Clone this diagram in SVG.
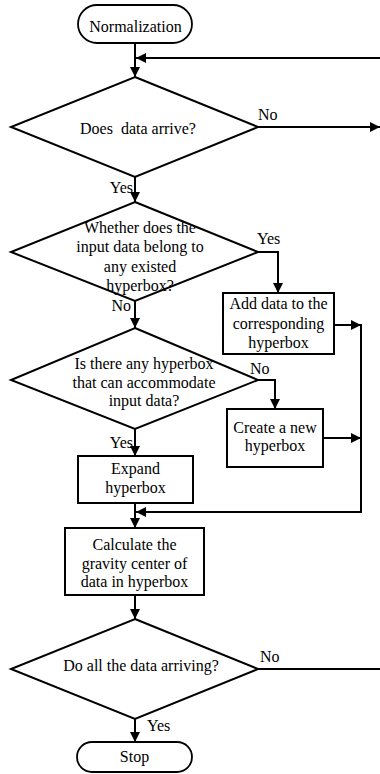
<svg xmlns="http://www.w3.org/2000/svg" width="380" height="774" viewBox="0 0 380 774">
  <defs>
    <style>
      .shape { fill: #fff; stroke: #000; stroke-width: 2; }
      .term { fill: #fff; stroke: #000; stroke-width: 1.8; }
      .wire { fill: none; stroke: #000; stroke-width: 2; }
      .arrow { marker-end: url(#head); }
      text { font-family: "Liberation Serif", "Times New Roman", serif; font-size: 16px; fill: #000; }
      .c { text-anchor: middle; }
      .e { text-anchor: end; }
    </style>
    <marker id="head" markerUnits="userSpaceOnUse" markerWidth="12" markerHeight="12" viewBox="0 0 12 12" refX="11" refY="6" orient="auto">
      <path d="M1,1 L11,6 L1,11 Z" fill="#000"/>
    </marker>
  </defs>

  <rect width="380" height="774" fill="#fff"/>

  <!-- connectors -->
  <g id="connectors">
    <line class="wire arrow" x1="135" y1="43" x2="135" y2="77"/>
    <line class="wire arrow" x1="380" y1="58" x2="136" y2="58"/>
    <line class="wire arrow" x1="258" y1="127" x2="380" y2="127"/>
    <line class="wire arrow" x1="135" y1="177" x2="135" y2="202"/>
    <polyline class="wire arrow" points="258,252 278,252 278,293"/>
    <line class="wire arrow" x1="334" y1="325" x2="361" y2="325"/>
    <line class="wire arrow" x1="135" y1="301" x2="135" y2="328"/>
    <polyline class="wire arrow" points="258,380 275,380 275,409"/>
    <line class="wire arrow" x1="323" y1="438" x2="361" y2="438"/>
    <polyline class="wire arrow" points="361,324 361,512 136,512"/>
    <line class="wire arrow" x1="135" y1="429" x2="135" y2="456"/>
    <line class="wire arrow" x1="135" y1="503" x2="135" y2="528"/>
    <line class="wire arrow" x1="135" y1="595" x2="135" y2="619"/>
    <line class="wire" x1="258" y1="669" x2="380" y2="669"/>
    <line class="wire arrow" x1="135" y1="719" x2="135" y2="742"/>

    <text x="258" y="120">No</text>
    <text class="e" x="133" y="193">Yes</text>
    <text x="257" y="244">Yes</text>
    <text class="e" x="131" y="311">No</text>
    <text x="250" y="374">No</text>
    <text class="e" x="133" y="448">Yes</text>
    <text x="260" y="662">No</text>
    <text x="147" y="731">Yes</text>
  </g>

  <!-- nodes -->
  <g id="start">
    <rect class="term" x="78" y="5" width="114" height="38" rx="19"/>
    <text class="c" x="135.5" y="32">Normalization</text>
  </g>

  <g id="data-arrive">
    <polygon class="shape" points="135,77 258,127 135,177 11,127"/>
    <text class="c" x="138" y="134" xml:space="preserve">Does  data arrive?</text>
  </g>

  <g id="belongs-to-hyperbox">
    <polygon class="shape" points="135,202 258,252 135,301 11,252"/>
    <text class="c" x="140" y="233">Whether does the</text>
    <text class="c" x="140" y="252">input data belong to</text>
    <text class="c" x="140" y="272">any existed</text>
    <text class="c" x="140" y="291">hyperbox?</text>
  </g>

  <g id="add-data">
    <rect class="shape" x="223" y="293" width="111" height="61"/>
    <text class="c" x="278.5" y="309">Add data to the</text>
    <text class="c" x="278.5" y="329">corresponding</text>
    <text class="c" x="278.5" y="348">hyperbox</text>
  </g>

  <g id="can-accommodate">
    <polygon class="shape" points="135,328 258,380 135,429 11,380"/>
    <text class="c" x="144" y="369">Is there any hyperbox</text>
    <text class="c" x="144" y="388">that can accommodate</text>
    <text class="c" x="144" y="406">input data?</text>
  </g>

  <g id="create-hyperbox">
    <rect class="shape" x="227" y="409" width="96" height="58"/>
    <text class="c" x="275" y="433">Create a new</text>
    <text class="c" x="275" y="451">hyperbox</text>
  </g>

  <g id="expand-hyperbox">
    <rect class="shape" x="78" y="456" width="115" height="47"/>
    <text class="c" x="135.5" y="474">Expand</text>
    <text class="c" x="135.5" y="493">hyperbox</text>
  </g>

  <g id="gravity-center">
    <rect class="shape" x="65" y="528" width="139" height="67"/>
    <text class="c" x="134.5" y="550">Calculate the</text>
    <text class="c" x="134.5" y="568.5">gravity center of</text>
    <text class="c" x="134.5" y="587">data in hyperbox</text>
  </g>

  <g id="all-arrived">
    <polygon class="shape" points="135,619 258,669 135,719 11,669"/>
    <text class="c" x="141" y="671">Do all the data arriving?</text>
  </g>

  <g id="stop">
    <rect class="term" x="77" y="742" width="115" height="30" rx="15"/>
    <text class="c" x="134.5" y="762">Stop</text>
  </g>
</svg>
